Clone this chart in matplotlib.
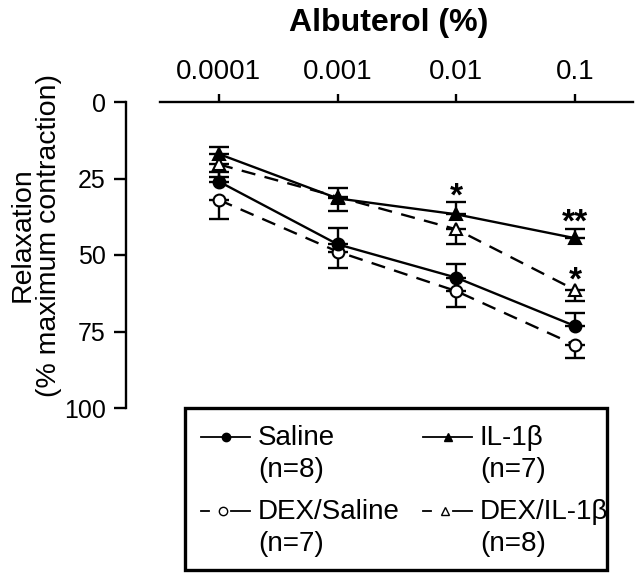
import matplotlib
matplotlib.use("Agg")
import matplotlib.pyplot as plt
from matplotlib.lines import Line2D
from matplotlib.patches import Rectangle
import numpy as np

plt.rcParams['font.family'] = ['Liberation Sans', 'DejaVu Sans']

# ---- data ----
conc = [0.0001, 0.001, 0.01, 0.1]
tick_labels = ["0.0001", "0.001", "0.01", "0.1"]

saline = [26.0, 46.5, 57.4, 73.2]
saline_err = [3.0, 5.2, 4.4, 4.4]          # drawn upward

dex_saline = [32.0, 48.9, 61.8, 79.4]
dex_saline_err = [6.2, 5.2, 5.3, 4.1]      # drawn downward

il1b = [17.0, 31.5, 36.7, 44.5]
il1b_err = [2.3, 3.3, 4.1, 2.9]            # drawn upward

dex_il1b = [20.4, 31.0, 41.6, 61.4]
dex_il1b_err = [4.0, 4.6, 4.9, 3.6]        # drawn downward

stars = ["*", "**", "*"]
star_x = [0.01, 0.1, 0.1]
star_y = [31.0, 39.5, 58.5]

legend_names = ["Saline\n(n=8)", "IL-1\u03b2\n(n=7)", "DEX/Saline\n(n=7)", "DEX/IL-1\u03b2\n(n=8)"]

W, H = 640, 574
fig = plt.figure(figsize=(W / 100, H / 100), dpi=100)

def fx(px):
    return px / W

def fy(py):
    return 1 - py / H

ax = fig.add_axes([fx(126), fy(408), fx(633) - fx(126), fy(102) - fy(408)])
ax.set_xscale('log')
ax.set_xlim(10 ** -4.783, 10 ** -0.511)
ax.set_ylim(100, 0)

lw = 1.7
dash = (0, (6, 4))

def series(y, err, up, marker, filled, ls):
    yerr = [err, [0] * len(err)] if up else [[0] * len(err), err]
    ax.errorbar(conc, y, yerr=yerr, fmt='none', ecolor='black',
                elinewidth=lw, capsize=7, capthick=lw, zorder=2)
    ax.plot(conc, y, color='black', lw=lw, linestyle=ls, marker=marker,
            markersize=8.5 if marker == 'o' else 9,
            markerfacecolor='black' if filled else 'white',
            markeredgecolor='black', markeredgewidth=1.5, zorder=3)

series(dex_saline, dex_saline_err, False, 'o', False, dash)
series(dex_il1b, dex_il1b_err, False, '^', False, dash)
series(saline, saline_err, True, 'o', True, '-')
series(il1b, il1b_err, True, '^', True, '-')

for s, xx, yy in zip(stars, star_x, star_y):
    ax.text(xx, yy, s, ha='center', va='center', fontsize=24, fontweight='bold')

# axes styling
ax.spines['bottom'].set_visible(False)
ax.spines['right'].set_visible(False)
ax.spines['top'].set_linewidth(1.7)
ax.spines['left'].set_linewidth(1.7)
ax.spines['top'].set_bounds(10 ** -4.497, 10 ** -0.511)
ax.xaxis.set_ticks_position('top')
ax.set_xticks(conc)
ax.set_xticklabels(tick_labels)
ax.xaxis.set_minor_locator(matplotlib.ticker.NullLocator())
ax.tick_params(axis='x', which='major', direction='out', length=6, width=1.7,
               labelsize=20, pad=6)
ax.set_yticks([0, 25, 50, 75, 100])
ax.tick_params(axis='y', direction='out', length=8.5, width=1.7,
               labelsize=18, pad=6)

fig.text(fx(389), fy(23), "Albuterol (%)", ha='center', va='center',
         fontsize=23, fontweight='bold')
fig.text(fx(36), fy(235), "Relaxation\n(% maximum contraction)", ha='center',
         va='center', rotation=90, fontsize=20.5, linespacing=1.05)

# ---- legend box ----
lax = fig.add_axes([fx(185), fy(570), fx(607) - fx(185), fy(408) - fy(570)])
lax.set_xlim(0, 422)
lax.set_ylim(162, 0)
lax.axis('off')
lax.add_patch(Rectangle((0, 0), 422, 162, fill=False, lw=2.4, edgecolor='black',
                        clip_on=False))
styles = [('o', True, False), ('^', True, False), ('o', False, True),
          ('^', False, True)]
col_x = [16, 238]
row_y = [29, 103]
for i, (name, (mk, filled, dashed)) in enumerate(zip(legend_names, styles)):
    cx = col_x[i % 2]
    ry = row_y[i // 2]
    if dashed:
        segs = [(cx, cx + 8), (cx + 30, cx + 49)]
        mx = cx + 22
    else:
        segs = [(cx, cx + 49)]
        mx = cx + 25
    for a, b in segs:
        lax.add_line(Line2D([a, b], [ry, ry], color='black', lw=1.3))
    lax.add_line(Line2D([mx], [ry], marker=mk, markersize=6,
                        markerfacecolor='black' if filled else 'white',
                        markeredgecolor='black', markeredgewidth=1.0,
                        linestyle='none'))
    lax.text(cx + 57, ry - 12, name, ha='left', va='top', fontsize=20,
             linespacing=1.28)

fig.savefig("out.png", dpi=100)
